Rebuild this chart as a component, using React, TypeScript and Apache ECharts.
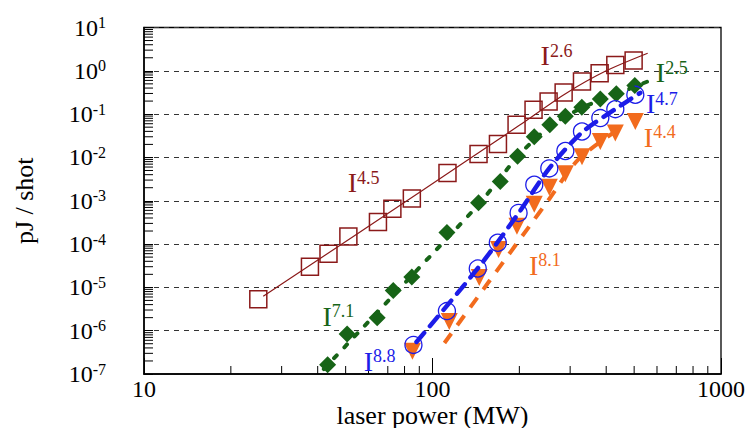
import React, { useEffect, useRef } from 'react';
import * as echarts from 'echarts';

// ---- axis ticks ----
const xMajorTicks = [10, 100, 1000];
const xMinorTicks = [20, 30, 40, 50, 60, 70, 80, 90, 200, 300, 400, 500, 600, 700, 800, 900];
const yDecades = [-7, -6, -5, -4, -3, -2, -1, 0];
const yMinorMultipliers = [2, 3, 4, 5, 6, 7, 8, 9];

// ---- measured data ----
const redX = [24.9, 37.6, 43.6, 51.1, 64.7, 72.6, 84.8, 112.7, 144.4, 168.6, 195.6, 224, 252.6, 284.8, 329.7, 379.6, 430.2, 497.9];
const redY = [5.3e-6, 3.0e-5, 6.0e-5, 1.5e-4, 3.25e-4, 6.5e-4, 1.12e-3, 4.4e-3, 0.012, 0.0204, 0.0567, 0.126, 0.195, 0.315, 0.564, 0.88, 1.37, 1.72];

const greenX = [43.3, 50.6, 64.3, 73.1, 84.8, 112.2, 144.4, 171.7, 197.2, 225.3, 255, 288.7, 329.2, 381.7, 433.7, 502.7];
const greenY = [1.63e-7, 8.4e-7, 2.0e-6, 8.5e-6, 1.74e-5, 1.84e-4, 9.0e-4, 2.8e-3, 0.0107, 0.030, 0.0567, 0.089, 0.1435, 0.222, 0.294, 0.461];

const blueX = [85.9, 112.2, 143.5, 168.4, 198.8, 225.3, 254, 288.7, 329.7, 381.7, 430.2, 504.7];
const blueY = [4.7e-7, 2.83e-6, 2.72e-5, 1.07e-4, 5.24e-4, 2.35e-3, 5.58e-3, 0.0141, 0.0397, 0.0809, 0.130, 0.279];

const orangeX = [85.2, 114.3, 145.2, 169.4, 196.2, 225.3, 254, 288.7, 329.7, 381.7, 430.2, 504.7];
const orangeY = [3.33e-7, 1.64e-6, 1.69e-5, 7.47e-5, 2.57e-4, 8.35e-4, 2.06e-3, 4.21e-3, 0.0104, 0.0234, 0.0365, 0.0675];

// ---- fit curves ----
const redFitX = [25.9, 93, 200, 290, 400, 557];
const redFitY = [6.2e-6, 1.8e-3, 0.055, 0.3, 1.0, 2.55];
const greenFitX = [42, 85, 145, 200, 255, 330, 434, 554];
const greenFitY = [1.3e-7, 1.9e-5, 8.5e-4, 0.0115, 0.052, 0.14, 0.29, 0.56];
const blueFitX = [88, 145, 200, 255, 330, 430, 525];
const blueFitY = [5.5e-7, 3.0e-5, 5.5e-4, 5.8e-3, 0.038, 0.13, 0.31];
const orangeFitX = [110, 150, 215, 254, 320, 440];
const orangeFitY = [5.2e-7, 9e-6, 2.4e-4, 1.1e-3, 8.9e-3, 0.044];

// ---- power-law annotations ----
const annExp = ['4.5', '2.6', '2.5', '4.7', '4.4', '8.1', '7.1', '8.8'];
const annX = [50.6, 236, 592, 547, 538, 215, 41.4, 57.5];
const annY = [2.6e-3, 2.2, 0.895, 0.173, 0.0292, 3.2e-5, 2.13e-6, 1.96e-7];
const annSeries = ['red', 'red', 'green', 'blue', 'orange', 'orange', 'green', 'blue'];

const COLORS: Record<string, string> = {
  red: '#8B1A1A',
  green: '#176417',
  blue: '#1C1CE8',
  orange: '#F26B1D',
};
const FONT = 'Liberation Serif, Times New Roman, serif';

const zip = (a: number[], b: number[]) => a.map((v, i) => [v, b[i]]);

export default function App() {
  const ref = useRef<HTMLDivElement>(null);
  useEffect(() => {
    const chart = echarts.init(ref.current!, null, { renderer: 'svg' });
    const yMin = Math.pow(10, yDecades[0]);
    const yMinor: number[] = [];
    yDecades.forEach((d) => yMinorMultipliers.forEach((m) => yMinor.push(m * Math.pow(10, d))));

    const annData = annX.map((x, i) => ({
      value: [x, annY[i]],
      label: {
        formatter: `{i|I}{s|${annExp[i]}}`,
        rich: {
          i: { fontSize: 28, lineHeight: 28, color: COLORS[annSeries[i]], fontFamily: FONT },
          s: { fontSize: 18, lineHeight: 11, verticalAlign: 'top', color: COLORS[annSeries[i]], fontFamily: FONT },
        },
      },
    }));

    const option: any = {
      animation: false,
      backgroundColor: '#fff',
      grid: {
        left: 144, right: 27, top: 27.5, bottom: 54,
        outerBoundsMode: 'none', containLabel: false,
        show: true, borderColor: '#000', borderWidth: 1.3, backgroundColor: 'transparent',
      },
      xAxis: {
        type: 'log', logBase: 10, min: xMajorTicks[0], max: xMajorTicks[xMajorTicks.length - 1], splitNumber: 2,
        name: 'laser power (MW)', nameLocation: 'middle', nameGap: 30, nameMoveOverlap: false,
        nameTextStyle: { fontFamily: FONT, fontSize: 26, lineHeight: 22, color: '#000' },
        axisLine: { lineStyle: { color: '#000', width: 1.5 } },
        axisTick: { inside: true, length: 16, lineStyle: { color: '#000', width: 1 } },
        axisLabel: {
          margin: 5, fontFamily: FONT, fontSize: 24, lineHeight: 20, color: '#000',
          formatter: (v: number) => String(Math.round(v)),
        },
        splitLine: { show: false },
      },
      yAxis: {
        type: 'log', logBase: 10, min: yMin, max: 10, splitNumber: 8,
        name: 'pJ / shot', nameLocation: 'middle', nameGap: 107, nameRotate: 90,
        nameTextStyle: { fontFamily: FONT, fontSize: 26, color: '#000' },
        axisLine: { lineStyle: { color: '#000', width: 1.5 } },
        axisTick: { inside: true, length: 9, lineStyle: { color: '#000', width: 1 } },
        axisLabel: {
          margin: 38, fontFamily: FONT, color: '#000',
          formatter: (v: number) => `{b|10}{s|${Math.round(Math.log10(v))}}`,
          rich: {
            b: { fontSize: 24, lineHeight: 26, fontFamily: FONT, color: '#000' },
            s: { fontSize: 16, lineHeight: 8, verticalAlign: 'top', fontFamily: FONT, color: '#000' },
          },
        },
        splitLine: { show: true, lineStyle: { type: [5, 5], color: '#333', width: 1 } },
      },
      series: [
        {
          type: 'custom', silent: true, clip: false, z: 5,
          data: xMinorTicks.map((v) => [v, yMin]),
          renderItem: (_p: any, api: any) => {
            const pt = api.coord([api.value(0), api.value(1)]);
            return { type: 'line', shape: { x1: pt[0], y1: pt[1], x2: pt[0], y2: pt[1] - 8 }, style: { stroke: '#000', lineWidth: 1 } };
          },
        },
        {
          type: 'custom', silent: true, clip: false, z: 5,
          data: yMinor.map((v) => [xMajorTicks[0], v]),
          renderItem: (_p: any, api: any) => {
            const pt = api.coord([api.value(0), api.value(1)]);
            return { type: 'line', shape: { x1: pt[0], y1: pt[1], x2: pt[0] + 9, y2: pt[1] }, style: { stroke: '#000', lineWidth: 1 } };
          },
        },
        {
          type: 'scatter', data: zip(redX, redY), symbol: 'rect', symbolSize: 17, z: 3,
          itemStyle: { color: 'rgba(0,0,0,0)', borderColor: COLORS.red, borderWidth: 1.5, opacity: 1 },
        },
        {
          type: 'scatter', data: zip(greenX, greenY), symbol: 'diamond', symbolSize: 17, z: 3,
          itemStyle: { color: COLORS.green, opacity: 1 },
        },
        {
          type: 'scatter', data: zip(orangeX, orangeY), symbol: 'triangle', symbolRotate: 180, symbolSize: [17, 17], z: 3,
          itemStyle: { color: COLORS.orange, opacity: 1 },
        },
        {
          type: 'scatter', data: zip(blueX, blueY), symbol: 'circle', symbolSize: 17, z: 4,
          itemStyle: { color: 'rgba(0,0,0,0)', borderColor: COLORS.blue, borderWidth: 1.3, opacity: 1 },
        },
        {
          type: 'line', data: zip(redFitX, redFitY), showSymbol: false, smooth: 0.3, z: 6,
          lineStyle: { color: COLORS.red, width: 1.2 },
        },
        {
          type: 'line', data: zip(greenFitX, greenFitY), showSymbol: false, smooth: 0.3, z: 6,
          lineStyle: { color: COLORS.green, width: 4, type: [4, 11], cap: 'round' },
        },
        {
          type: 'line', data: zip(orangeFitX, orangeFitY), showSymbol: false, smooth: 0.3, z: 6,
          lineStyle: { color: COLORS.orange, width: 4, type: [12, 10] },
        },
        {
          type: 'line', data: zip(blueFitX, blueFitY), showSymbol: false, smooth: 0.3, z: 6,
          lineStyle: { color: COLORS.blue, width: 4.5, type: [12, 9], cap: 'round' },
        },
        {
          type: 'scatter', data: annData, symbolSize: 1, silent: true, z: 7,
          itemStyle: { color: 'rgba(0,0,0,0)', opacity: 1 },
          label: { show: true, position: 'right', distance: 0 },
        },
      ],
    };
    chart.setOption(option);
    return () => chart.dispose();
  }, []);
  return <div ref={ref} style={{ position: 'fixed', left: 0, top: 0, width: 748, height: 428 }} />;
}
